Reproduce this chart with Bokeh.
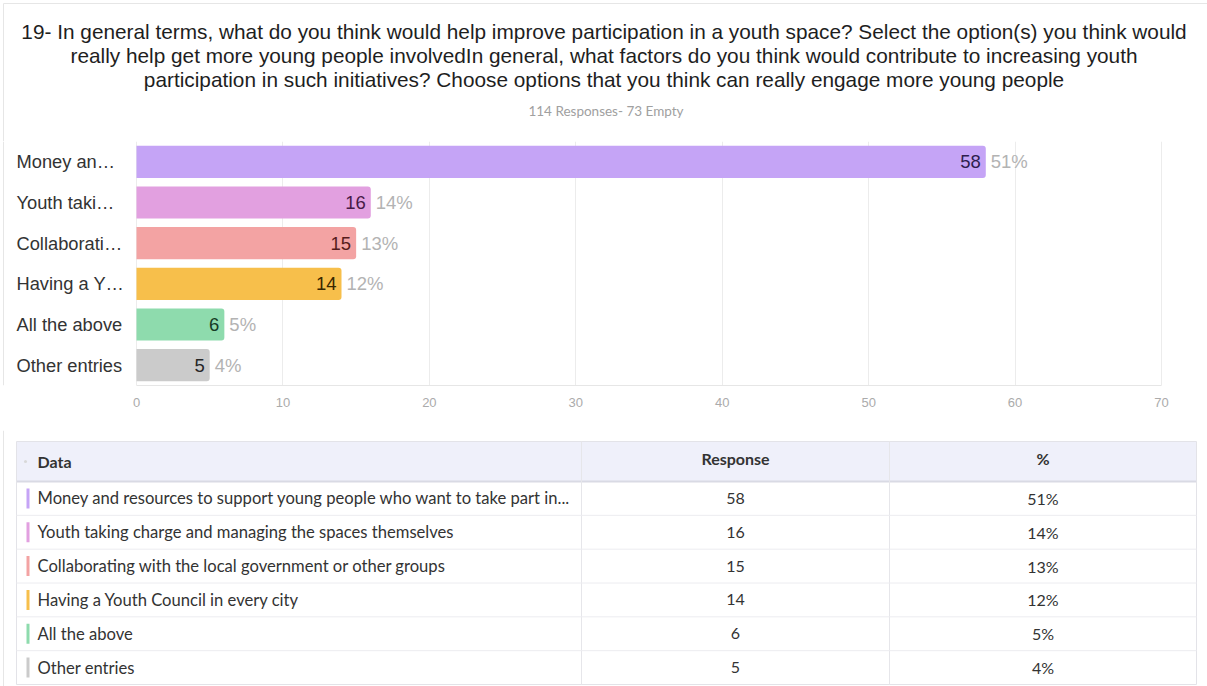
from bokeh.plotting import figure
from bokeh.models import Range1d, FactorRange, FixedTicker, Span, ColumnDataSource
from bokeh.layouts import column
from bokeh.core.properties import value
from bokeh.embed import file_html
from bokeh.resources import INLINE

# ---------------- data ----------------
title_lines = [
    "19- In general terms, what do you think would help improve participation in a youth space? Select the option(s) you think would",
    "really help get more young people involvedIn general, what factors do you think would contribute to increasing youth",
    "participation in such initiatives? Choose options that you think can really engage more young people",
]
subtitle = "114 Responses- 73 Empty"
short_labels = ["Money an\u2026", "Youth taki\u2026", "Collaborati\u2026", "Having a Y\u2026", "All the above", "Other entries"]
full_labels = [
    "Money and resources to support young people who want to take part in...",
    "Youth taking charge and managing the spaces themselves",
    "Collaborating with the local government or other groups",
    "Having a Youth Council in every city",
    "All the above",
    "Other entries",
]
responses = [58, 16, 15, 14, 6, 5]
percents = [51, 14, 13, 12, 5, 4]
x_ticks = [0, 10, 20, 30, 40, 50, 60, 70]
table_headers = ["Data", "Response", "%"]

bar_colors = ["#c5a4f6", "#e2a0e0", "#f3a3a3", "#f7bf4b", "#8edbad", "#cbcbcb"]
inner_colors = ["#2d1e4e", "#471a47", "#561b1b", "#392700", "#163b24", "#262626"]

W = 1207
SANS = value("Liberation Sans")
LATO = value("Lato")
BORDER = "#e6e6e6"


def base_fig(h, x_range, y_range, **kw):
    p = figure(width=W, height=h, x_range=x_range, y_range=y_range,
               toolbar_location=None, output_backend="svg",
               min_border_left=0, min_border_right=0, min_border_top=0, min_border_bottom=0,
               **kw)
    p.outline_line_color = None
    p.background_fill_color = "white"
    p.border_fill_color = "white"
    return p


# ---------------- title figure (page y 0..141) ----------------
H1 = 141
f1 = base_fig(H1, Range1d(0, W), Range1d(H1, 0), x_axis_location=None, y_axis_location=None)
f1.grid.visible = False
f1.segment(x0=[3, 3], y0=[3, 3], x1=[3, W], y1=[H1, 3], line_color=BORDER, line_width=1)
f1.text(x=[W / 2] * 3, y=[31, 55, 79], text=title_lines, text_align="center",
        text_baseline="middle", text_font=SANS, text_font_size="20.8px", text_color="#1e1e1e")
f1.text(x=[W / 2 + 2], y=[110], text=[subtitle], text_align="center", text_baseline="middle",
        text_font=LATO, text_font_size="13.5px", text_color="#a0a0a0")

# ---------------- chart figure (page y 141..430) ----------------
H2 = 289
PX0 = 136.0                 # pixel where value 0 sits
PXU = (1161.0 - 136.0) / 70  # pixels per unit


def px2x(px):
    return (px - PX0) / PXU


f2 = base_fig(H2, Range1d(px2x(0), px2x(W)), FactorRange(factors=short_labels[::-1], range_padding=0),
              y_axis_location=None)
f2.min_border_bottom = 45
src = ColumnDataSource(dict(
    cat=short_labels, val=responses, color=bar_colors, inner=inner_colors,
    vtxt=[str(v) for v in responses], ptxt=[f"{p}%" for p in percents], zero=[0] * len(responses),
))
f2.xgrid.ticker = FixedTicker(ticks=x_ticks)
f2.xgrid.grid_line_color = "#ececec"
f2.xgrid.bounds = (0, 70)
f2.ygrid.visible = False
xa = f2.xaxis[0]
xa.ticker = FixedTicker(ticks=x_ticks)
xa.bounds = (0, 70)
xa.axis_line_color = "#e6e6e6"
xa.major_tick_line_color = None
xa.minor_tick_line_color = None
xa.major_label_text_color = "#ababab"
xa.major_label_text_font = "Liberation Sans"
xa.major_label_text_font_size = "13px"
xa.major_label_standoff = 6

f2.hbar(y="cat", left=0, right="val", height=0.79, fill_color="color", line_color=None,
        border_radius=(0, 3, 3, 0), source=src)
f2.text(x="val", y="cat", text="vtxt", x_offset=-5, text_align="right", text_baseline="middle",
        text_font=SANS, text_font_size="18.5px", text_color="inner", source=src)
f2.text(x="val", y="cat", text="ptxt", x_offset=5, text_align="left", text_baseline="middle",
        text_font=SANS, text_font_size="18.5px", text_color="#b3b3b3", source=src)
f2.text(x="zero", y="cat", text="cat", x_offset=-120, text_align="left", text_baseline="middle",
        text_font=SANS, text_font_size="18.3px", text_color="#333333", source=src)
f2.add_layout(Span(location=px2x(3), dimension="height", line_color=BORDER, line_width=1))

# ---------------- table figure (page y 430..686) ----------------
Y0 = 430
H3 = 686 - Y0
f3 = base_fig(H3, Range1d(0, W), Range1d(686, Y0), x_axis_location=None, y_axis_location=None)
f3.grid.visible = False
TL, TR, TT, TB = 16, 1196, 441, 684
HB = 481
C1, C2 = 581, 889
n = len(full_labels)
rh = (TB - HB) / n
row_y = [HB + rh * (i + 0.5) for i in range(n)]

f3.segment(x0=[3], y0=[Y0], x1=[3], y1=[686], line_color=BORDER)
# header band
f3.quad(left=[TL], right=[TR], top=[TT], bottom=[HB], fill_color="#eff0fa", line_color=None)
f3.segment(x0=[TL], y0=[HB], x1=[TR], y1=[HB], line_color="#d9dae4", line_width=2)
# outer box & separators
f3.quad(left=[TL], right=[TR], top=[TT], bottom=[TB], fill_color=None, line_color="#e3e3e8")
f3.segment(x0=[C1, C2], y0=[TT, TT], x1=[C1, C2], y1=[TB, TB], line_color="#e6e6ea")
sep_y = [HB + rh * (i + 1) for i in range(n - 1)]
f3.segment(x0=[TL] * len(sep_y), y0=sep_y, x1=[TR] * len(sep_y), y1=sep_y, line_color="#ececf0")
# header texts
f3.scatter(x=[25], y=[461], size=3, fill_color="#d8d8d8", line_color=None)
f3.text(x=[37], y=[461], text=[table_headers[0]], text_align="left", text_baseline="middle",
        text_font=LATO, text_font_size="16px", text_font_style="bold", text_color="#333333")
f3.text(x=[(C1 + C2) / 2, (C2 + TR) / 2], y=[458, 458], text=table_headers[1:], text_align="center",
        text_baseline="middle", text_font=LATO, text_font_size="16px", text_font_style="bold",
        text_color="#333333")
# rows
f3.quad(left=[26] * n, right=[29] * n, top=[y - 10 for y in row_y], bottom=[y + 10 for y in row_y],
        fill_color=bar_colors, line_color=None)
f3.text(x=[37] * n, y=row_y, text=full_labels, text_align="left", text_baseline="middle",
        text_font=LATO, text_font_size="16.6px", text_color="#333333")
f3.text(x=[(C1 + C2) / 2] * n, y=row_y, text=[str(v) for v in responses], text_align="center",
        text_baseline="middle", text_font=LATO, text_font_size="16px", text_color="#333333")
f3.text(x=[(C2 + TR) / 2] * n, y=row_y, text=[f"{p}%" for p in percents], text_align="center",
        text_baseline="middle", text_font=LATO, text_font_size="16px", text_color="#333333")

layout = column(f1, f2, f3, spacing=0)
open("out.html", "w").write(file_html(layout, INLINE))
